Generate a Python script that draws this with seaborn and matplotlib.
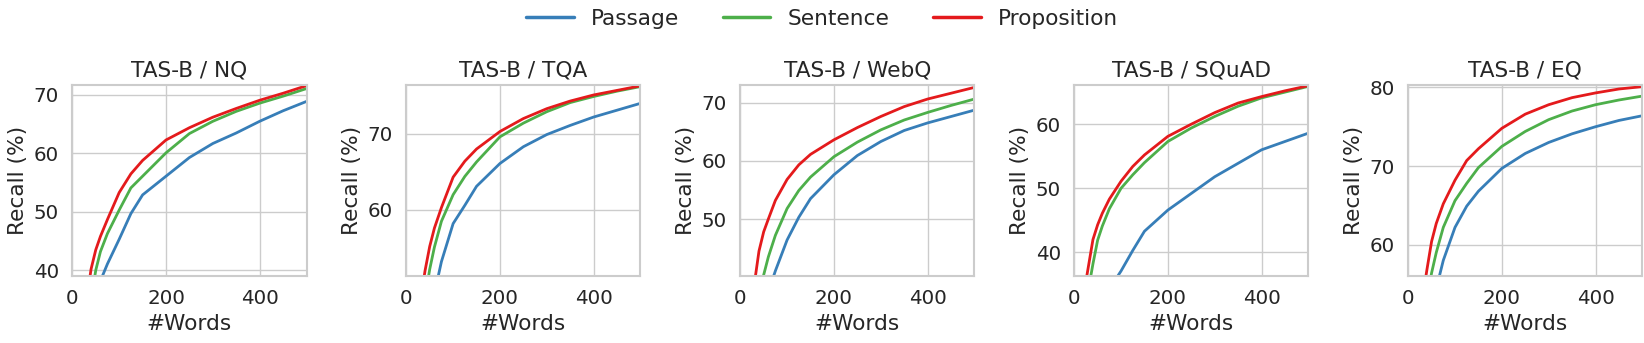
import numpy as np
import pandas as pd
import seaborn as sns
import matplotlib.pyplot as plt

# nombre de mots récupérés (axe x), lecture approximative du graphique
words = [25, 40, 50, 60, 75, 100, 125, 150, 200, 250, 300, 350, 400, 450, 500]

datasets = ["NQ", "TQA", "WebQ", "SQuAD", "EQ"]
methods = ["Passage", "Sentence", "Proposition"]

nq_passage = [25, 31, 35, 38.2, 41.1, 45.3, 49.7, 52.9, 56.1, 59.3, 61.7, 63.5, 65.5, 67.3, 68.9]
nq_sentence = [30, 35, 40, 43.2, 46.3, 50.3, 54.1, 56.1, 60.1, 63.4, 65.5, 67.2, 68.6, 69.8, 71.1]
nq_proposition = [32, 40.2, 43.5, 45.8, 48.7, 53.3, 56.5, 58.8, 62.3, 64.4, 66.2, 67.7, 69.1, 70.3, 71.6]

tqa_passage = [38, 43, 46, 49, 53.2, 58.2, 60.6, 63.1, 66.1, 68.3, 69.9, 71.1, 72.2, 73.1, 74]
tqa_sentence = [44, 48.5, 52.2, 55.1, 58.5, 62, 64.4, 66.3, 69.6, 71.4, 72.9, 74.1, 74.9, 75.6, 76.2]
tqa_proposition = [46, 52, 55.2, 57.6, 60.3, 64.3, 66.4, 68, 70.3, 72, 73.3, 74.3, 75.1, 75.7, 76.3]

webq_passage = [28, 32, 35, 37.5, 41.1, 46.4, 50.3, 53.5, 57.6, 60.9, 63.3, 65.2, 66.5, 67.6, 68.7]
webq_sentence = [32, 37, 40.4, 43.5, 47.2, 51.8, 54.9, 57.2, 60.7, 63.2, 65.3, 67, 68.3, 69.5, 70.6]
webq_proposition = [36, 44.5, 47.8, 50, 53.2, 56.8, 59.3, 61.1, 63.6, 65.7, 67.6, 69.3, 70.6, 71.6, 72.6]

squad_passage = [26, 29, 31, 32.5, 34.3, 37.1, 40.3, 43.3, 46.6, 49.2, 51.8, 53.9, 56, 57.3, 58.6]
squad_sentence = [32, 38.2, 41.9, 44.1, 46.8, 50, 52.1, 54, 57.3, 59.4, 61.2, 62.8, 64.1, 65, 65.9]
squad_proposition = [35.5, 42, 44.3, 46.1, 48.3, 51.1, 53.4, 55.2, 58.1, 60, 61.8, 63.3, 64.3, 65.2, 66]

eq_passage = [44, 48.5, 51.5, 54.4, 58, 62.2, 64.9, 66.8, 69.7, 71.6, 73, 74.1, 75, 75.8, 76.4]
eq_sentence = [48, 53, 56.4, 59, 62.2, 65.6, 67.8, 69.8, 72.5, 74.4, 75.9, 77, 77.8, 78.4, 78.9]
eq_proposition = [51, 56.8, 60.4, 62.7, 65.2, 68.2, 70.7, 72.2, 74.8, 76.6, 77.8, 78.7, 79.3, 79.8, 80.1]

# limites y lues sur chaque panneau
y_limits = [(39, 71.7), (51.3, 76.4), (40.2, 73.0), (36.3, 66.1), (56.0, 80.3)]

recall = {
    "NQ": [nq_passage, nq_sentence, nq_proposition],
    "TQA": [tqa_passage, tqa_sentence, tqa_proposition],
    "WebQ": [webq_passage, webq_sentence, webq_proposition],
    "SQuAD": [squad_passage, squad_sentence, squad_proposition],
    "EQ": [eq_passage, eq_sentence, eq_proposition],
}

rows = []
for ds in datasets:
    for m, vals in zip(methods, recall[ds]):
        for w, v in zip(words, vals):
            rows.append({"dataset": ds, "method": m, "words": w, "recall": v})
df = pd.DataFrame(rows)

sns.set_theme(style="whitegrid", font_scale=1.3)
palette = {"Passage": "#377eb8", "Sentence": "#4daf4a", "Proposition": "#e41a1c"}

fig, axes = plt.subplots(1, 5, figsize=(16.44, 3.43), dpi=100)
for ax, ds, lim in zip(axes, datasets, y_limits):
    sub = df[df["dataset"] == ds]
    sns.lineplot(data=sub, x="words", y="recall", hue="method", hue_order=methods,
                 palette=palette, linewidth=2, ax=ax, legend=False)
    ax.set_xlim(0, 500)
    ax.set_ylim(*lim)
    ax.set_xticks([0, 200, 400])
    ax.set_title(f"TAS-B / {ds}")
    ax.set_xlabel("#Words")
    ax.set_ylabel("Recall (%)")
    for s in ax.spines.values():
        s.set_color("#cccccc")
        s.set_linewidth(1.5)

# légende commune en haut
handles = [plt.Line2D([], [], color=palette[m], linewidth=2.5) for m in methods]
fig.legend(handles, methods, loc="center", ncol=3, frameon=False, fontsize=15.6,
           bbox_to_anchor=(0.5, 0.945), columnspacing=2.0, handlelength=2.2,
           handletextpad=0.8)

plt.subplots_adjust(left=0.044, right=0.999, bottom=0.195, top=0.752, wspace=0.426)
plt.savefig("out.png")
